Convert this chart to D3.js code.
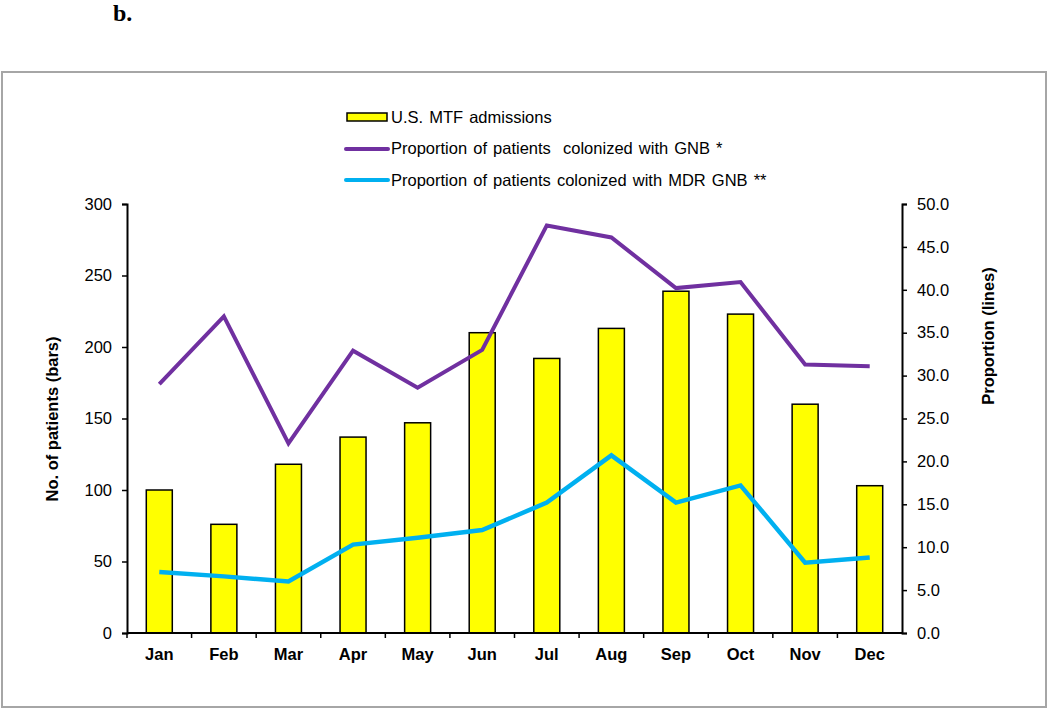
<!DOCTYPE html>
<html><head><meta charset="utf-8">
<script src="https://cdn.jsdelivr.net/npm/d3@7"></script>
<style>body{margin:0;background:#fff}svg{display:block}</style>
</head><body>
<svg id="c" width="1050" height="709" font-family="Arial, 'Liberation Sans', sans-serif"></svg>
<script>
const months = ["Jan","Feb","Mar","Apr","May","Jun","Jul","Aug","Sep","Oct","Nov","Dec"];
const admissions = [100,76,118,137,147,210,192,213,239,223,160,103];
const gnb = [29.0,36.9,22.1,32.9,28.6,33.0,47.5,46.1,40.2,40.9,31.3,31.1];
const mdrGnb = [7.1,6.6,6.0,10.3,11.1,12.0,15.2,20.7,15.2,17.2,8.2,8.8];
const leftTicks = [0,50,100,150,200,250,300];
const rightTicks = [0,5,10,15,20,25,30,35,40,45,50];
const legendLabels = ["U.S. MTF admissions","Proportion of patients  colonized with GNB *","Proportion of patients colonized with MDR GNB **"];

const svg = d3.select("#c");
const L = 127, R = 902, T = 204, B = 633;
const sans = "Arial, 'Liberation Sans', sans-serif";

svg.append("text").attr("x",113).attr("y",21).style("font-family","'Liberation Serif','Times New Roman',serif")
  .attr("font-weight","bold").attr("font-size",24).text("b.");
svg.append("rect").attr("x",2).attr("y",72).attr("width",1044).attr("height",635)
  .attr("fill","none").attr("stroke","#a6a6a6").attr("stroke-width",2);

const xb = d3.scaleBand().domain(months).range([L,R]);
const yL = d3.scaleLinear().domain([0,300]).range([B,T]);
const yR = d3.scaleLinear().domain([0,50]).range([B,T]);

// bars
svg.append("g").selectAll("rect").data(admissions).join("rect")
  .attr("x",(d,i)=>xb(months[i]) + xb.bandwidth()/2 - 13)
  .attr("width",26)
  .attr("y",d=>yL(d)).attr("height",d=>B-yL(d))
  .attr("fill","#ffff00").attr("stroke","#000").attr("stroke-width",1.5);

// axes
const axL = svg.append("g").attr("transform",`translate(${L},0)`)
  .call(d3.axisLeft(yL).tickValues(leftTicks).tickSize(5).tickPadding(10));
const axR = svg.append("g").attr("transform",`translate(${R},0)`)
  .call(d3.axisRight(yR).tickValues(rightTicks).tickFormat(d3.format(".1f")).tickSize(5).tickPadding(10));
[axL,axR].forEach(a=>{
  a.select(".domain").attr("stroke","#000").attr("stroke-width",2);
  a.selectAll(".tick line").attr("stroke","#000").attr("stroke-width",1.5);
  a.selectAll(".tick text").attr("font-size",16.5).attr("fill","#000").attr("font-family",sans);
});
// x axis
svg.append("line").attr("x1",L).attr("x2",R).attr("y1",B).attr("y2",B).attr("stroke","#000").attr("stroke-width",2);
svg.append("g").selectAll("line").data(months).join("line")
  .attr("x1",d=>xb(d)).attr("x2",d=>xb(d)).attr("y1",B).attr("y2",B+5)
  .attr("stroke","#000").attr("stroke-width",1.5);
svg.append("g").selectAll("text").data(months).join("text")
  .attr("x",d=>xb(d)+xb.bandwidth()/2).attr("y",660).attr("text-anchor","middle")
  .attr("font-size",16.5).attr("font-weight","bold").text(d=>d);

// lines
const lineGen = d3.line().x((d,i)=>xb(months[i])+xb.bandwidth()/2).y(d=>yR(d));
svg.append("path").datum(gnb).attr("d",lineGen).attr("fill","none")
  .attr("stroke","#7030a0").attr("stroke-width",4).attr("stroke-linejoin","miter");
svg.append("path").datum(mdrGnb).attr("d",lineGen).attr("fill","none")
  .attr("stroke","#00b0f0").attr("stroke-width",4.5).attr("stroke-linejoin","miter");

// axis titles
svg.append("text").attr("transform","translate(58,419) rotate(-90)").attr("text-anchor","middle")
  .attr("font-size",16.5).attr("font-weight","bold").text("No. of patients (bars)");
svg.append("text").attr("transform","translate(994,336) rotate(-90)").attr("text-anchor","middle")
  .attr("font-size",16.5).attr("font-weight","bold").text("Proportion (lines)");

// legend
const lg = svg.append("g");
lg.append("rect").attr("x",347).attr("y",113).attr("width",40).attr("height",8)
  .attr("fill","#ffff00").attr("stroke","#000").attr("stroke-width",1.5);
lg.append("line").attr("x1",346).attr("x2",388).attr("y1",149).attr("y2",149)
  .attr("stroke","#7030a0").attr("stroke-width",4).attr("stroke-linecap","round");
lg.append("line").attr("x1",346).attr("x2",388).attr("y1",180).attr("y2",180)
  .attr("stroke","#00b0f0").attr("stroke-width",4).attr("stroke-linecap","round");
lg.selectAll("text").data(legendLabels).join("text")
  .attr("x",391).attr("y",(d,i)=>117+i*31.5).attr("dy","0.35em")
  .attr("font-size",16.5).attr("word-spacing",1.5).style("white-space","pre").text(d=>d);
</script>
</body></html>
